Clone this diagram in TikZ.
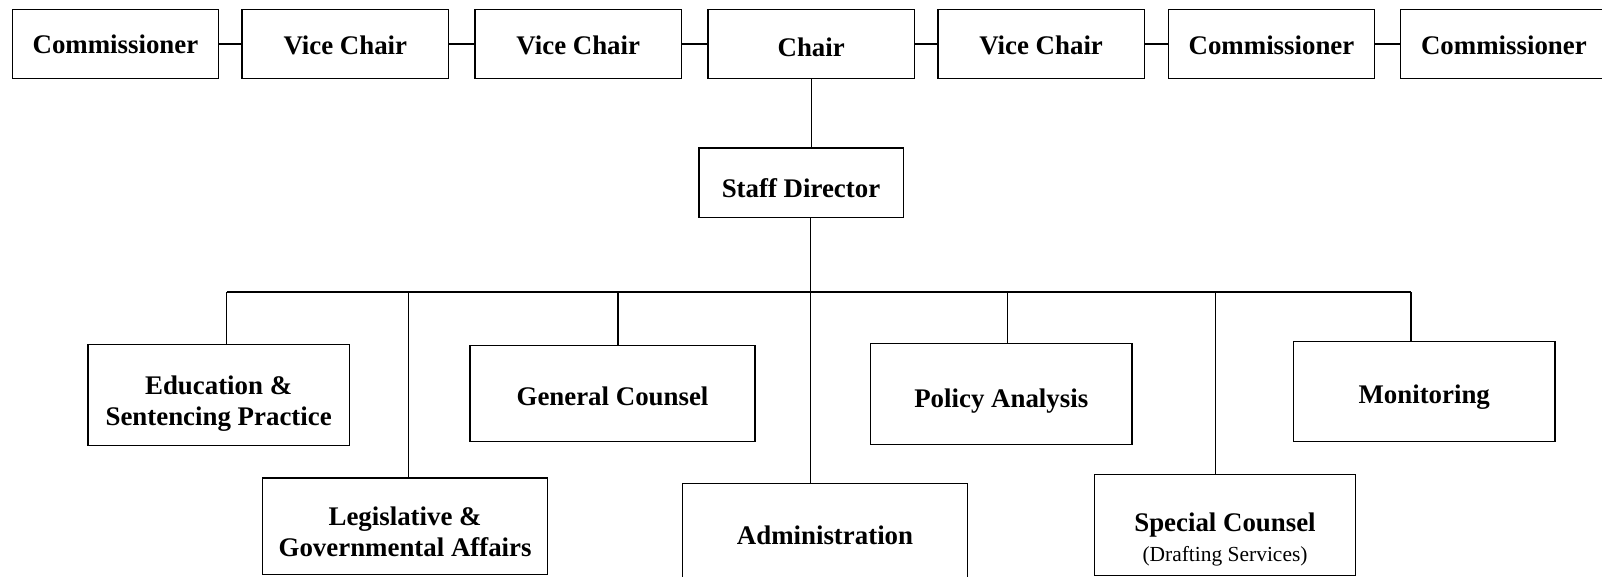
\documentclass[tikz,border=0pt]{standalone}
\usepackage{fontspec}
\setmainfont{Liberation Serif}
\begin{document}
\begin{tikzpicture}[x=1pt,y=-1pt,
    post/.style={draw,line width=1.3pt,inner sep=0pt,align=center,
      font=\bfseries\fontsize{26.3}{30}\selectfont},
    seat/.style={post,minimum width=202pt,minimum height=68pt},
    office/.style={post,minimum width=256pt,minimum height=99pt},
    widebox/.style={post,minimum width=279pt,minimum height=94pt},
    sink/.style={text height=#1,text depth=0pt},
    link/.style={line width=1.3pt},
    bus/.style={line width=2pt}]
  \clip (0,0) rectangle (1568,564);
  % commission
  \node[seat] (com1) at (113,43) {Commissioner};
  \node[seat,sink=21pt] (vice1) at (338,43) {Vice Chair};
  \node[seat,sink=21pt] (vice2) at (566,43) {Vice Chair};
  \node[seat,sink=25pt] (chair) at (794,43) {Chair};
  \node[seat,sink=21pt] (vice3) at (1019,43) {Vice Chair};
  \node[seat,sink=21pt] (com2) at (1244.5,43) {Commissioner};
  \node[seat,sink=21pt] (com3) at (1472,43) {Commissioner};
  \node[seat,sink=28pt,minimum width=200pt] (staff) at (784,179) {Staff Director};
  % offices
  \node[office,sink=59pt] (edu) at (214,386.5) {Education \&\\Sentencing Practice};
  \node[widebox,sink=59pt] (leg) at (396.5,515) {Legislative \&\\Governmental Affairs};
  \node[widebox,sink=24pt] (gen) at (599.5,385) {General Counsel};
  \node[widebox,sink=25pt] (adm) at (807.5,520) {Administration};
  \node[office,sink=26pt] (pol) at (980,385.5) {Policy Analysis};
  \node[office,sink=72pt] (spc) at (1199,514) {Special Counsel\\
    {\mdseries\fontsize{21}{24}\selectfont(Drafting Services)}};
  \node[office,sink=24pt,minimum height=98pt] (mon) at (1394,383) {Monitoring};
  % bus points
  \coordinate (hub) at (793,286);
  \coordinate (d1) at (222,286);
  \coordinate (d2) at (400,286);
  \coordinate (d3) at (605,286);
  \coordinate (d4) at (986,286);
  \coordinate (d5) at (1190,286);
  \coordinate (d6) at (1381,286);
  \begin{scope}[link]
    \draw (com1) -- (vice1);
    \draw (vice1) -- (vice2);
    \draw (vice2) -- (chair);
    \draw (chair) -- (vice3);
    \draw (vice3) -- (com2);
    \draw (com2) -- (com3);
    \draw (chair.south) -- (chair.south |- staff.north);
    \draw (hub |- staff.south) -- (hub);
    \draw (d1) -- (d1 |- edu.north);
    \draw (d2) -- (d2 |- leg.north);
    \draw (d3) -- (d3 |- gen.north);
    \draw (hub) -- (hub |- adm.north);
    \draw (d4) -- (d4 |- pol.north);
    \draw (d5) -- (d5 |- spc.north);
    \draw (d6) -- (d6 |- mon.north);
  \end{scope}
  \draw[bus] (d1) -- (d6);
\end{tikzpicture}
\end{document}
